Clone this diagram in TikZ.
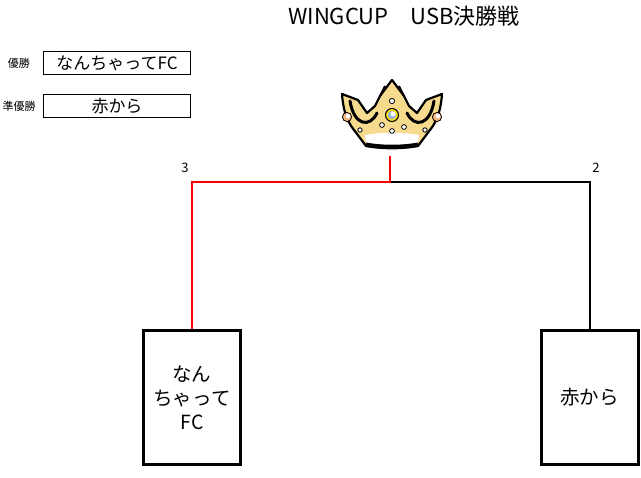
\documentclass[tikz,border=0pt]{standalone}
\usepackage{fontspec}
\setmainfont{Noto Sans CJK JP}
\definecolor{crowngold}{HTML}{F6DA8E}
\definecolor{pearlorange}{HTML}{F4B67C}
\definecolor{gemblue}{HTML}{8DB4E8}
\begin{document}
\begin{tikzpicture}[x=1pt,y=-1pt]
	\tikzset{
		namebox/.style={draw, line width=1.2pt, minimum width=147pt, minimum height=23pt, inner sep=0pt, font=\fontsize{17}{20}\selectfont},
		teambox/.style={draw, line width=3pt, minimum width=97pt, minimum height=134pt, inner sep=0pt, align=center, font=\fontsize{19.5}{24}\selectfont},
		win/.style={draw=red, line width=2pt},
		lose/.style={draw=black, line width=2pt},
		score/.style={font=\fontsize{13}{14}\selectfont},
		tag/.style={font=\fontsize{11}{12}\selectfont},
		pearl/.style={fill=white, draw=black, line width=0.8pt},
	}
	\useasboundingbox (0,0) rectangle (641,478);
	\node[font=\fontsize{22}{24}\selectfont] (title) at (404,16) {WINGCUP　USB決勝戦};
	% winner and runner-up
	\node[tag] (wintag) at (19,63) {優勝};
	\node[tag] (runtag) at (19,106) {準優勝};
	\node[namebox] (champ) at (117,63) {なんちゃってFC};
	\node[namebox] (runner) at (117,106) {赤から};
	% final
	\node[teambox] (nanchatte) at (192,397.5) {なん\\ちゃって\\FC};
	\node[teambox] (akakara) at (589.5,397.5) {赤から};
	\coordinate (final) at (390,182);
	\coordinate (cup) at (390,156);
	\draw[lose] (final) -| (akakara.north);
	\draw[win] (nanchatte.north) |- (final) -- (cup);
	\node[score] (score3) at (185,168) {3};
	\node[score] (score2) at (596,168) {2};
	% crown
	\begin{scope}[shift={(392,0)}]
		\draw[fill=crowngold, line width=2.2pt, line join=round] (-26,146) -- (-38,130) .. controls (-46,120) and (-49,108) .. (-50,94) -- (-34,100) -- (-25,113) -- (-17,106) -- (-12,96) -- (0,80) -- (12,96) -- (17,106) -- (25,113) -- (34,100) -- (50,94) .. controls (49,108) and (46,120) .. (38,130) -- (26,146) .. controls (10,149) and (-10,149) .. (-26,146) -- cycle;
		\fill[white] (-27,135) .. controls (-10,132) and (10,132) .. (27,135) -- (26,143) .. controls (10,146) and (-10,146) .. (-26,143) -- cycle;
		\draw[line width=3pt] (-26,144) .. controls (-10,147) and (10,147) .. (26,144);
		\draw[line width=3pt, line cap=round] (-42,101) .. controls (-38,126) and (-22,128) .. (-15,113);
		\draw[line width=3pt, line cap=round] (42,101) .. controls (38,126) and (22,128) .. (15,113);
		\draw[line width=2pt] (-12,96) -- (-7,86);
		\draw[line width=2pt] (12,96) -- (7,86);
		\draw[fill=yellow!80!orange, line width=1pt] (0,115) circle (6.5);
		\fill[gemblue] (0,115) circle (4.2);
		\fill[white] (1,114) circle (2.6);
		\draw[pearl] (0,101) circle (2.6);
		\draw[pearl] (-10,125) circle (2.4);
		\draw[pearl] (12,127) circle (2.4);
		\draw[pearl] (0,131) circle (2.4);
		\draw[pearl] (-32,130) circle (2.2);
		\draw[pearl] (33,130) circle (2.2);
		\draw[fill=pearlorange, line width=0.8pt] (-45,117) circle (4.6);
		\draw[fill=pearlorange, line width=0.8pt] (45,117) circle (4.6);
		\fill[white] (-44,116) circle (2.3);
		\fill[white] (46,116) circle (2.3);
	\end{scope}
\end{tikzpicture}
\end{document}
